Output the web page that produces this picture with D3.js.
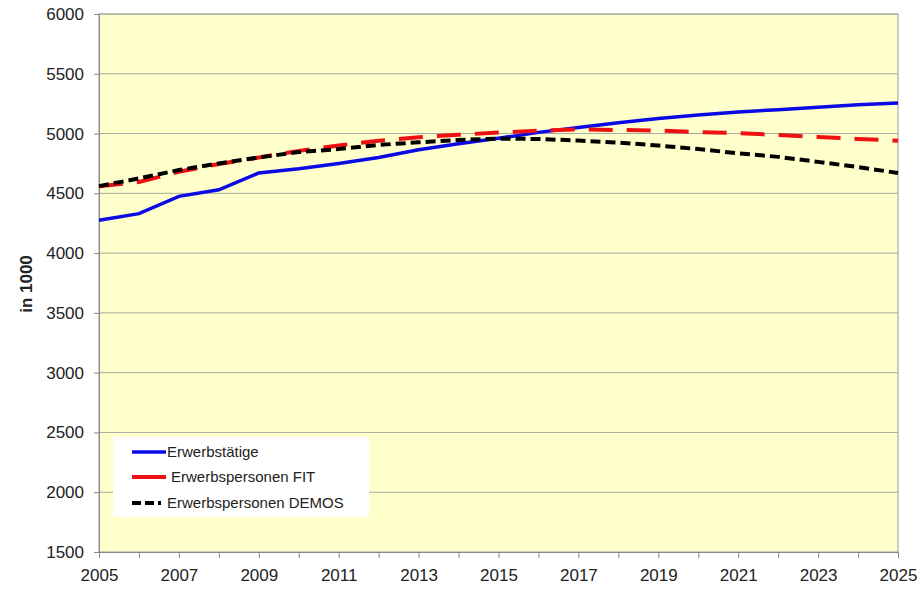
<!DOCTYPE html>
<html>
<head>
<meta charset="utf-8">
<script src="https://d3js.org/d3.v7.min.js"></script>
<style>
  body { margin: 0; background: #fff; }
  text { font-family: "Liberation Sans", Arial, sans-serif; fill: #222; }
</style>
</head>
<body>
<svg width="922" height="590"></svg>
<script>
// Jahre und Reihen (in 1000)
const years = d3.range(2005, 2026);
const erwerbstaetige = [4275, 4330, 4475, 4530, 4670, 4705, 4750, 4800, 4865, 4915, 4960,
  5010, 5050, 5090, 5125, 5155, 5180, 5200, 5220, 5240, 5255];
const personenFIT = [4560, 4595, 4680, 4745, 4800, 4855, 4900, 4940, 4970, 4990, 5008,
  5025, 5035, 5030, 5025, 5013, 5003, 4988, 4972, 4955, 4940];
const personenDEMOS = [4560, 4625, 4695, 4750, 4800, 4845, 4870, 4905, 4927, 4946, 4957,
  4955, 4941, 4925, 4900, 4870, 4835, 4805, 4763, 4720, 4670];
const yTicks = d3.range(1500, 6001, 500);
const xTicks = d3.range(2005, 2026, 2);
const seriesNames = ["Erwerbstätige", "Erwerbspersonen FIT", "Erwerbspersonen DEMOS"];

const series = [
  {name: seriesNames[0], values: erwerbstaetige, color: "#0a0ae6", dash: null, w: 3.5},
  {name: seriesNames[1], values: personenFIT, color: "#ee1111", dash: "24,14", w: 4},
  {name: seriesNames[2], values: personenDEMOS, color: "#000", dash: "10,5", w: 4}
];

const svg = d3.select("svg");
const width = +svg.attr("width");
const height = +svg.attr("height");
const margin = {top: 14, right: 24, bottom: 38, left: 99};

const x = d3.scaleLinear().domain([2005, 2025]).range([margin.left, width - margin.right]);
const y = d3.scaleLinear().domain([1500, 6000]).range([height - margin.bottom, margin.top]);

// Zeichenfläche
svg.append("rect")
  .attr("x", x(2005)).attr("y", y(6000))
  .attr("width", x(2025) - x(2005)).attr("height", y(1500) - y(6000))
  .attr("fill", "#ffffcc")
  .attr("stroke", "#9a9a9a");

// Gitterlinien
svg.append("g").selectAll("line")
  .data(yTicks.slice(1))
  .join("line")
  .attr("x1", x(2005)).attr("x2", x(2025))
  .attr("y1", d => y(d)).attr("y2", d => y(d))
  .attr("stroke", "#a8a8a0").attr("stroke-width", 1);

// Achsen
const yAxis = svg.append("g")
  .attr("transform", "translate(" + x(2005) + ",0)")
  .call(d3.axisLeft(y).tickValues(yTicks).tickSize(5).tickPadding(10).tickFormat(d3.format("d")));
const xAxis = svg.append("g")
  .attr("transform", "translate(0," + y(1500) + ")")
  .call(d3.axisBottom(x).tickValues(years).tickSize(6).tickPadding(8)
    .tickFormat(d => xTicks.indexOf(d) > -1 ? d3.format("d")(d) : ""));
[yAxis, xAxis].forEach(a => {
  a.select(".domain").attr("stroke", "#888");
  a.selectAll(".tick line").attr("stroke", "#888");
  a.selectAll("text").style("font-size", "17px").attr("fill", "#222");
});
xAxis.selectAll("text").attr("dy", "0.9em");

svg.append("text")
  .attr("transform", "translate(32,284) rotate(-90)")
  .attr("text-anchor", "middle")
  .style("font-size", "17px").style("font-weight", "bold")
  .text("in 1000");

// Linien
const line = d3.line()
  .x((d, i) => x(years[i]))
  .y(d => y(d));

svg.append("g").selectAll("path")
  .data(series)
  .join("path")
  .attr("d", d => line(d.values))
  .attr("fill", "none")
  .attr("stroke", d => d.color)
  .attr("stroke-width", d => d.w)
  .attr("stroke-dasharray", d => d.dash);

// Legende
const legend = svg.append("g");
legend.append("rect")
  .attr("x", 113).attr("y", 437)
  .attr("width", 256).attr("height", 80)
  .attr("fill", "#fff");
const rows = legend.selectAll("g")
  .data(series)
  .join("g")
  .attr("transform", (d, i) => "translate(132," + [452, 477, 503][i] + ")");
rows.append("line")
  .attr("x1", 0).attr("x2", 34)
  .attr("stroke", d => d.color)
  .attr("stroke-width", d => d.w)
  .attr("stroke-dasharray", (d, i) => i === 2 ? "9,4,9,4,3" : null);
rows.append("text")
  .attr("x", (d, i) => i === 1 ? 39 : 35)
  .attr("dy", "0.35em")
  .style("font-size", "15px")
  .text(d => d.name);
</script>
</body>
</html>
